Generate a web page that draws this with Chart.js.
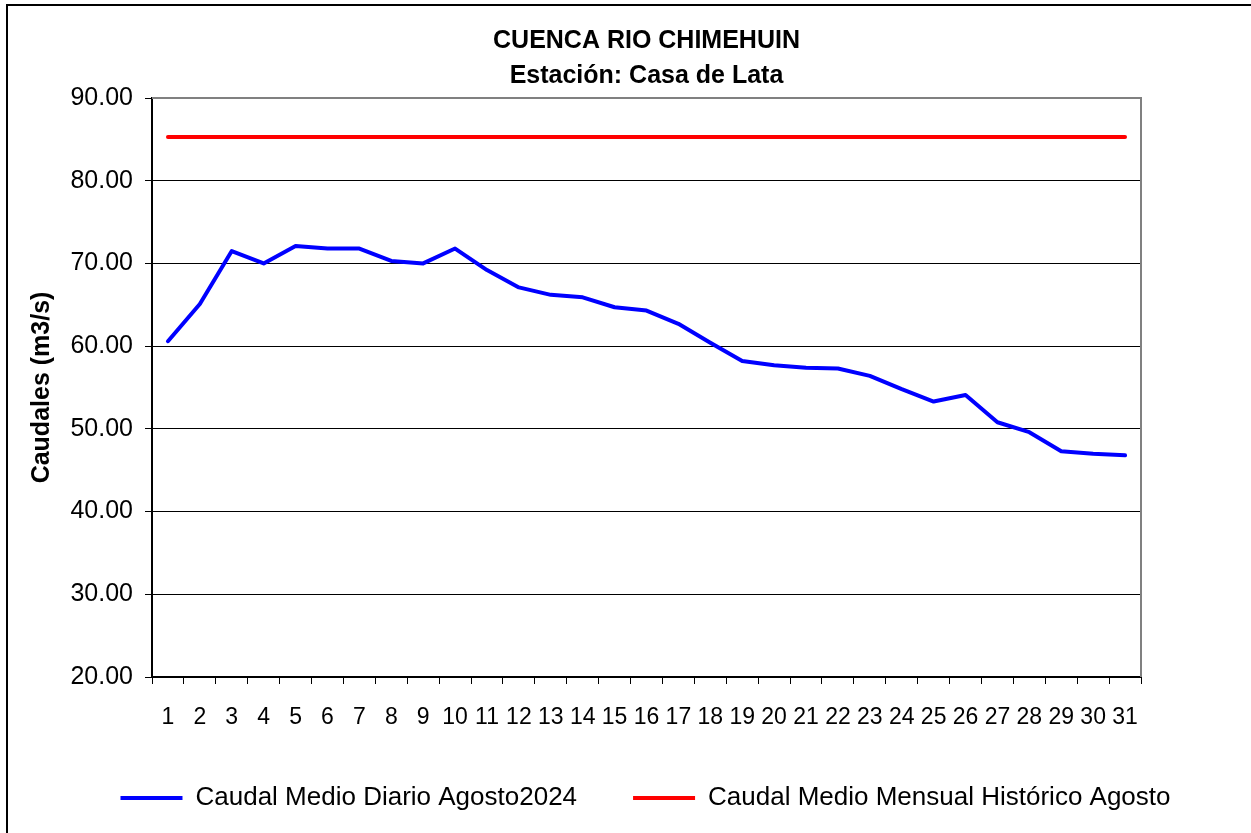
<!DOCTYPE html>
<html>
<head>
<meta charset="utf-8">
<script src="https://cdn.jsdelivr.net/npm/chart.js@4.4.1/dist/chart.umd.min.js"></script>
<style>
  html, body { margin: 0; padding: 0; background: #ffffff; }
  #wrap { position: absolute; left: 0; top: 0; width: 1251px; height: 833px; overflow: hidden; }
  #frame { position: absolute; left: 6px; top: 4px; width: 1300px; height: 900px; border-left: 2px solid #000; border-top: 2px solid #000; box-sizing: border-box; }
  canvas { position: absolute; left: 0; top: 0; }
</style>
</head>
<body>
<div id="wrap">
  <div id="frame"></div>
  <canvas id="c" width="1251" height="833"></canvas>
</div>
<script>
const titleLines = ['CUENCA RIO CHIMEHUIN', 'Estación: Casa de Lata'];
const yAxisTitle = 'Caudales (m3/s)';
const days = ['1','2','3','4','5','6','7','8','9','10','11','12','13','14','15','16','17','18','19','20','21','22','23','24','25','26','27','28','29','30','31'];
const dailyLabel = 'Caudal Medio Diario Agosto2024';
const dailyFlow = [60.6, 65.1, 71.5, 70.0, 72.1, 71.8, 71.8, 70.3, 70.0, 71.8, 69.2, 67.1, 66.2, 65.9, 64.7, 64.3, 62.7, 60.4, 58.2, 57.7, 57.4, 57.3, 56.4, 54.8, 53.3, 54.1, 50.8, 49.6, 47.3, 47.0, 46.8];
const histLabel = 'Caudal Medio Mensual Histórico Agosto';
const histFlow = [85.3, 85.3, 85.3, 85.3, 85.3, 85.3, 85.3, 85.3, 85.3, 85.3, 85.3, 85.3, 85.3, 85.3, 85.3, 85.3, 85.3, 85.3, 85.3, 85.3, 85.3, 85.3, 85.3, 85.3, 85.3, 85.3, 85.3, 85.3, 85.3, 85.3, 85.3];
const yMin = 20, yMax = 90, yStep = 10;

const FONT = "'Liberation Sans', Arial, sans-serif";

const plotFrame = {
  id: 'plotFrame',
  beforeDatasetsDraw(chart) {
    const a = chart.chartArea, ctx = chart.ctx;
    ctx.save();
    ctx.strokeStyle = '#808080';
    ctx.lineWidth = 2;
    ctx.beginPath();
    ctx.moveTo(a.left, a.top);
    ctx.lineTo(a.right, a.top);
    ctx.lineTo(a.right, a.bottom);
    ctx.stroke();
    ctx.restore();
  }
};

new Chart(document.getElementById('c'), {
  type: 'line',
  data: {
    labels: days,
    datasets: [
      { label: dailyLabel, data: dailyFlow, borderColor: '#0000FF', backgroundColor: '#0000FF', borderWidth: 4, pointRadius: 0, pointStyle: 'line', tension: 0, borderJoinStyle: 'round', borderCapStyle: 'round', fill: false, yAxisID: 'y' },
      { label: histLabel, data: histFlow, borderColor: '#FF0000', backgroundColor: '#FF0000', borderWidth: 4, pointRadius: 0, pointStyle: 'line', tension: 0, borderCapStyle: 'round', fill: false, yAxisID: 'y' }
    ]
  },
  options: {
    responsive: false,
    animation: false,
    devicePixelRatio: 1,
    layout: { padding: { left: 40, top: 10, right: 0, bottom: 12 } },
    plugins: {
      title: {
        display: true,
        text: titleLines,
        fullSize: false,
        color: '#000',
        font: { family: FONT, size: 25, weight: 'bold', lineHeight: 1.4 },
        padding: { top: 14, bottom: 4 }
      },
      legend: {
        display: true,
        position: 'bottom',
        fullSize: true,
        maxHeight: 103,
        labels: {
          usePointStyle: true,
          pointStyleWidth: 62,
          boxHeight: 25,
          padding: 56,
          color: '#000',
          font: { family: FONT, size: 26 }
        }
      },
      tooltip: { enabled: false }
    },
    scales: {
      x: {
        offset: true,
        grid: { display: true, drawOnChartArea: false, drawTicks: true, tickLength: 7, color: '#000', offset: true },
        border: { display: true, color: '#000', width: 2 },
        ticks: { color: '#000', font: { family: FONT, size: 23 }, padding: 20, maxRotation: 0, autoSkip: false },
        afterFit(s) { s.height = 52; }
      },
      y: {
        position: 'left',
        min: yMin, max: yMax,
        grid: { color: '#000', lineWidth: 1, tickLength: 7, drawTicks: true },
        border: { display: true, color: '#000', width: 2 },
        ticks: { stepSize: yStep, color: '#000', font: { family: FONT, size: 25 }, padding: 12, callback: v => Number(v).toFixed(2) },
        title: { display: true, text: yAxisTitle, color: '#000', font: { family: FONT, size: 25, weight: 'bold' }, padding: { top: -13, bottom: 0 } },
        afterFit(s) { s.width = 112; }
      },
      yRightSpace: {
        position: 'right',
        display: true,
        min: yMin, max: yMax,
        grid: { display: false, drawOnChartArea: false, drawTicks: false },
        border: { display: false },
        ticks: { display: false },
        afterFit(s) { s.width = 110; }
      }
    }
  },
  plugins: [plotFrame]
});
</script>
</body>
</html>
